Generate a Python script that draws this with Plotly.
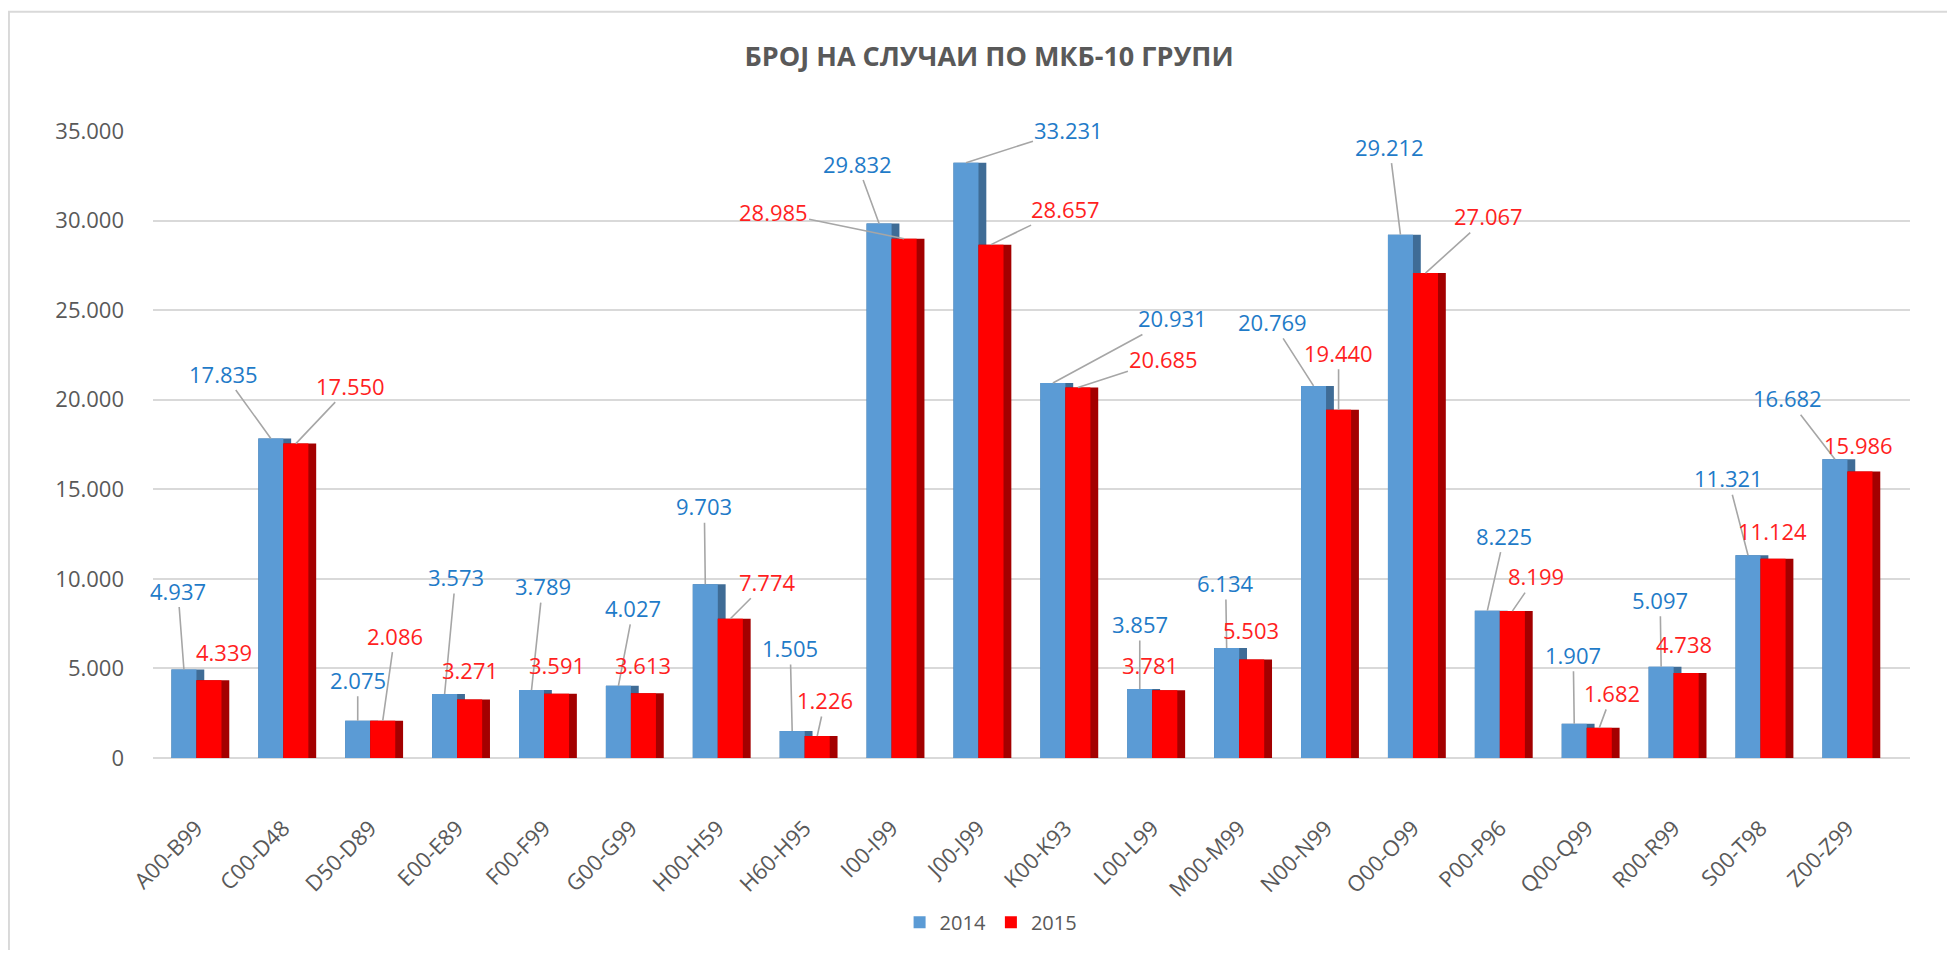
import plotly.graph_objects as go

# ---------------- data ----------------
categories = ["A00-B99", "C00-D48", "D50-D89", "E00-E89", "F00-F99", "G00-G99",
              "H00-H59", "H60-H95", "I00-I99", "J00-J99", "K00-K93", "L00-L99",
              "M00-M99", "N00-N99", "O00-O99", "P00-P96", "Q00-Q99", "R00-R99",
              "S00-T98", "Z00-Z99"]
values_2014 = [4937, 17835, 2075, 3573, 3789, 4027, 9703, 1505, 29832, 33231,
               20931, 3857, 6134, 20769, 29212, 8225, 1907, 5097, 11321, 16682]
values_2015 = [4339, 17550, 2086, 3271, 3591, 3613, 7774, 1226, 28985, 28657,
               20685, 3781, 5503, 19440, 27067, 8199, 1682, 4738, 11124, 15986]
series_names = ["2014", "2015"]
title_text = "БРОЈ НА СЛУЧАИ ПО МКБ-10 ГРУПИ"

# ---------------- styling ----------------
FONT = "Open Sans"
GREY = "#595959"
BLUE, BLUE_SIDE, BLUE_TXT = "#5B9BD5", "#3F6C96", "#1F7BC8"
RED, RED_SIDE, RED_TXT = "#FF0000", "#A30000", "#FF1F1F"
BAR_W = 0.288     # front face width (category units)
DEPTH = 0.09      # side face width

# label offsets (pixels) from the bar top, per series
offsets_2014 = [(-6, -79), (-47, -65), (0, -41), (11, -117), (11, -104), (15, -78),
                (-1, -78), (-2, -83), (-22, -60), (103, -33), (120, -65), (0, -65),
                (-1, -65), (-41, -64), (-11, -88), (17, -75), (-1, -69), (-1, -67),
                (-20, -77), (-47, -61)]
offsets_2015 = [(15, -28), (55, -58), (12, -85), (0, -29), (0, -29), (0, -28),
                (37, -37), (8, -36), (-131, -27), (74, -36), (86, -28), (-15, -25),
                (-1, -29), (0, -57), (63, -57), (24, -35), (13, -35), (-2, -29),
                (-1, -28), (-1, -27)]

fig = go.Figure()

# side faces (drawn behind front faces)
fig.add_trace(go.Bar(x=categories, y=values_2014, offset=-BAR_W, width=BAR_W + DEPTH,
                     marker=dict(color=BLUE_SIDE, line=dict(width=0)),
                     showlegend=False, hoverinfo="skip"))
fig.add_trace(go.Bar(x=categories, y=values_2014, offset=-BAR_W, width=BAR_W,
                     name=series_names[0], marker=dict(color=BLUE, line=dict(width=0))))
fig.add_trace(go.Bar(x=categories, y=values_2015, offset=0, width=BAR_W + DEPTH,
                     marker=dict(color=RED_SIDE, line=dict(width=0)),
                     showlegend=False, hoverinfo="skip"))
fig.add_trace(go.Bar(x=categories, y=values_2015, offset=0, width=BAR_W,
                     name=series_names[1], marker=dict(color=RED, line=dict(width=0))))


def fmt(v):
    return f"{v:,}".replace(",", ".")


annotations = []
for vals, offs, sign, color in ((values_2014, offsets_2014, -1, BLUE_TXT),
                                (values_2015, offsets_2015, 1, RED_TXT)):
    for i, (v, (dx, dy)) in enumerate(zip(vals, offs)):
        xpos = i + sign * BAR_W / 2
        dist = (dx ** 2 + dy ** 2) ** 0.5
        if dist > 34:
            annotations.append(dict(x=xpos, y=v, xref="x", yref="y", text=fmt(v),
                                    showarrow=True, arrowhead=0, arrowwidth=1.6,
                                    arrowcolor="#A6A6A6", ax=dx, ay=dy, standoff=0,
                                    font=dict(family=FONT, size=22, color=color)))
        else:
            annotations.append(dict(x=xpos, y=v, xref="x", yref="y", text=fmt(v),
                                    showarrow=False, xshift=dx, yshift=-dy,
                                    font=dict(family=FONT, size=22, color=color)))

# page body has an 8px margin, so the figure is 16px smaller than the window
fig.update_layout(
    width=1939, height=942,
    margin=dict(l=145, r=37, t=123, b=192, autoexpand=False),
    paper_bgcolor="white", plot_bgcolor="white",
    barmode="overlay",
    separators=",.",
    font=dict(family=FONT, size=22, color=GREY),
    title=dict(text=title_text, x=0.506, xanchor="center", y=0.948, yanchor="middle",
               font=dict(family=FONT, size=27, color=GREY, weight="bold")),
    xaxis=dict(type="category", range=[-0.5, 19.72], showgrid=False, showline=False,
               ticks="", tickangle=-45, ticklabelstandoff=52,
               tickfont=dict(family=FONT, size=22, color=GREY)),
    yaxis=dict(range=[0, 35000], dtick=5000, tickformat=",d", showline=False,
               gridcolor="#D9D9D9", gridwidth=2, zeroline=True, zerolinecolor="#D9D9D9",
               zerolinewidth=2, ticks="", ticklabelstandoff=28,
               tickfont=dict(family=FONT, size=22, color=GREY)),
    legend=dict(orientation="h", x=0.477, xanchor="center", y=-0.262, yanchor="middle",
                font=dict(family=FONT, size=20, color=GREY), itemwidth=30,
                traceorder="normal"),
    annotations=annotations,
    shapes=[dict(type="rect", xref="paper", yref="paper",
                 x0=-0.082, x1=1.2, y0=-0.5, y1=1.19,
                 line=dict(color="#D9D9D9", width=2), fillcolor="rgba(0,0,0,0)",
                 layer="below")],
)

fig.write_html("out.html", config={"displayModeBar": False})
